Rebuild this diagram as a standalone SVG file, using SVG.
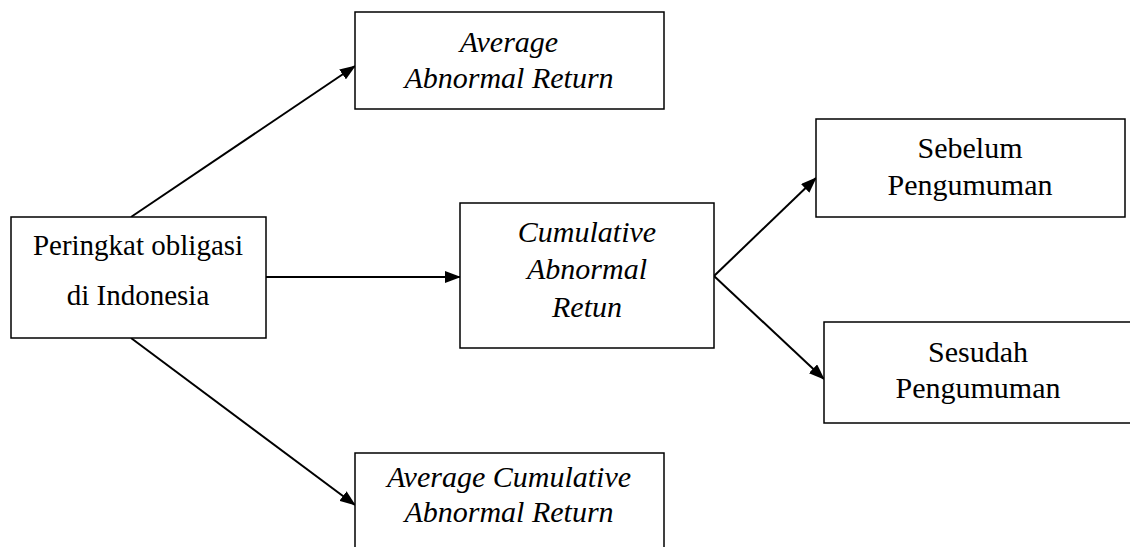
<svg xmlns="http://www.w3.org/2000/svg" width="1130" height="547" viewBox="0 0 1130 547">
<style>
.box{fill:#fff;stroke:#000;stroke-width:1.5}
.t{font-family:"Liberation Serif","Times New Roman",serif;font-size:30px;fill:#000;text-anchor:middle}
.i{font-style:italic}
.c{stroke:#000;stroke-width:2;fill:none;marker-end:url(#ah)}
</style>
<defs>
<marker id="ah" viewBox="0 0 16 12" refX="15" refY="6" markerWidth="16" markerHeight="12" markerUnits="userSpaceOnUse" orient="auto">
<path d="M0,0 L16,6 L0,12 z" fill="#000"/>
</marker>
</defs>
<g id="connectors">
<line class="c" x1="131" y1="217" x2="355" y2="66"/>
<line class="c" x1="131" y1="338" x2="355" y2="505"/>
<line class="c" x1="266" y1="277" x2="460" y2="277"/>
<line class="c" x1="714" y1="276" x2="816" y2="178"/>
<line class="c" x1="714" y1="276" x2="824" y2="379"/>
</g>
<g id="peringkat">
<rect class="box" x="11" y="217" width="255" height="121"/>
<text class="t" x="138" y="255" style="font-size:29px">Peringkat obligasi</text>
<text class="t" x="138" y="305" style="font-size:29px">di Indonesia</text>
</g>
<g id="aar">
<rect class="box" x="355" y="12" width="309" height="97"/>
<text class="t i" x="509" y="52">Average</text>
<text class="t i" x="509" y="88">Abnormal Return</text>
</g>
<g id="car">
<rect class="box" x="460" y="203" width="254" height="145"/>
<text class="t i" x="587" y="242">Cumulative</text>
<text class="t i" x="587" y="279">Abnormal</text>
<text class="t i" x="587" y="317">Retun</text>
</g>
<g id="acar">
<rect class="box" x="355" y="453" width="309" height="110"/>
<text class="t i" x="509" y="487">Average Cumulative</text>
<text class="t i" x="509" y="522">Abnormal Return</text>
</g>
<g id="sebelum">
<rect class="box" x="816" y="119" width="309" height="98"/>
<text class="t" x="970" y="158">Sebelum</text>
<text class="t" x="970" y="195">Pengumuman</text>
</g>
<g id="sesudah">
<rect class="box" x="824" y="322" width="320" height="101"/>
<text class="t" x="978" y="362">Sesudah</text>
<text class="t" x="978" y="398">Pengumuman</text>
</g>
</svg>
